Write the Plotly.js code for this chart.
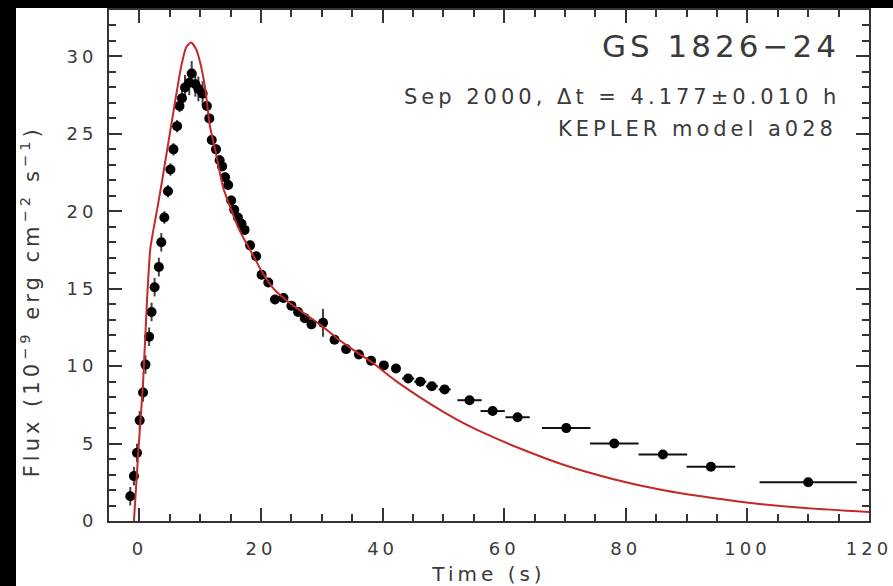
<!DOCTYPE html>
<html>
<head>
<meta charset="utf-8">
<script src="https://cdn.plot.ly/plotly-3.0.1.min.js"></script>
<style>
  html, body { margin: 0; padding: 0; background: #000; width: 893px; height: 586px; overflow: hidden; }
  #plot { position: absolute; left: 16px; top: 8px; width: 877px; height: 578px; background: #fff; }
  text { letter-spacing: 4px; }
</style>
</head>
<body>
<div id="plot"></div>
<script>
// Observed burst light curve (time in s, flux in 1e-9 erg cm^-2 s^-1)
const timeObs = [-1.5, -0.9, -0.4, 0.05, 0.6, 1.0, 1.6, 2.0, 2.5, 3.2, 3.6, 4.1, 4.7, 5.1, 5.6, 6.2, 6.6, 7.0, 7.5, 8.2, 8.6, 9.2, 9.7, 10.4, 11.1, 11.5, 11.9, 12.6, 13.2, 13.6, 14.1, 14.6, 15.1, 15.6, 16.2, 16.8, 17.3, 18.2, 19.2, 20.1, 21.2, 22.3, 23.7, 25.0, 26.1, 27.2, 28.3, 30.2, 32.1, 34.0, 36.1, 38.1, 40.2, 42.2, 44.2, 46.2, 48.1, 50.2, 54.3, 58.1, 62.2, 70.2, 78.1, 86.1, 94.0, 110.0];
const fluxObs = [1.6, 2.9, 4.4, 6.5, 8.3, 10.1, 11.9, 13.5, 15.1, 16.4, 18.0, 19.6, 21.3, 22.7, 24.0, 25.5, 26.8, 27.3, 28.0, 28.3, 28.9, 28.2, 27.9, 27.6, 26.8, 26.0, 24.6, 24.0, 23.3, 22.9, 22.2, 21.7, 20.7, 20.1, 19.6, 19.2, 18.8, 17.8, 17.1, 15.9, 15.4, 14.3, 14.4, 13.9, 13.5, 13.1, 12.7, 12.8, 11.7, 11.1, 10.75, 10.35, 10.05, 9.85, 9.2, 9.0, 8.7, 8.5, 7.8, 7.1, 6.7, 6.0, 5.0, 4.3, 3.5, 2.5];
const timeErr = [0.25,0.25,0.25,0.25,0.25,0.25,0.25,0.25,0.25,0.25,
                 0.25,0.25,0.25,0.25,0.25,0.25,0.25,0.25,0.25,0.25,
                 0.25,0.25,0.25,0.25,0.25,0.25,0.25,0.25,0.25,0.25,
                 0.25,0.25,0.25,0.25,0.25,0.25,0.25,0.25,0.25,0.25,
                 0.25,0.25,0.25,0.25,0.25,0.25,0.25,0.25,0.25,0.25,
                 0.25,0.25,0.25,0.25,
                 1.0,1.0,1.0,1.0,
                 2.0,2.0,2.0,
                 4.0,4.0,4.0,4.0,
                 8.0];
const fluxErr = [0.6,0.6,0.6,0.6,0.6,0.6,0.6,0.6,0.6,0.6,0.6,
                 0.4,0.4,0.4,0.4,0.4,0.4,
                 0.8,0.8,0.8,0.8,0.8,0.8,0.8,
                 0.3,0.3,0.3,0.3,0.3,0.3,0.3,0.3,0.3,0.3,0.3,0.3,0.3,0.3,0.3,0.3,0.3,0.3,0.3,0.3,0.3,0.3,0.3,
                 0.9,
                 0.25,0.25,0.25,0.25,0.25,0.25,0.25,0.25,0.25,0.25,0.25,0.25,0.25,
                 0.2,0.2,0.2,0.2,0.2];

// KEPLER model a028 light curve
const timeModel = [-0.9, -0.5, 0, 0.6, 1.26, 1.8, 2.3, 3, 4, 5, 6, 7, 7.7, 8.5, 9.3, 10, 10.8, 11.6, 12.5, 13.8, 15, 16.2, 17.5, 18.8, 20, 22.3, 25, 27.5, 30, 32.5, 35, 38.4, 42, 47.7, 52, 56, 62.5, 70, 78, 86, 94, 102, 110, 120];
const fluxModel = [0, 2.5, 5.5, 8.9, 14.3, 17.6, 18.8, 20.3, 22.6, 25.0, 27.4, 29.6, 30.6, 30.9, 30.5, 29.6, 28.0, 25.5, 23.9, 21.5, 20.2, 19.0, 18.0, 17.1, 16.2, 14.9, 14.0, 13.3, 12.6, 11.8, 11.1, 10.2, 9.1, 7.6, 6.6, 5.8, 4.7, 3.6, 2.7, 2.0, 1.5, 1.1, 0.82, 0.58];

const labels = {
  source: "GS 1826\u221224",
  epoch: "Sep 2000, \u0394t = 4.177\u00b10.010 h",
  model: "KEPLER model a028",
  xTitle: "Time (s)",
  yTitle: "Flux (10<sup>\u22129</sup> erg cm<sup>\u22122</sup> s<sup>\u22121</sup>)"
};

const txtColor = "#3a3a3a";
const axColor = "#333";
const fontFam = "DejaVu Sans, sans-serif";

const data = [
  {
    x: timeObs, y: fluxObs, type: "scatter", mode: "markers",
    marker: { color: "#000", size: 10 },
    error_x: { type: "data", array: timeErr, visible: true, color: "#111", thickness: 2, width: 0 },
    error_y: { type: "data", array: fluxErr, visible: true, color: "#444", thickness: 2, width: 0 },
    hoverinfo: "x+y", showlegend: false
  },
  {
    x: timeModel, y: fluxModel, type: "scatter", mode: "lines",
    line: { color: "rgb(196,40,40)", width: 2, shape: "spline", smoothing: 0.6 },
    showlegend: false
  }
];

const axisCommon = {
  showgrid: false, zeroline: false, showline: true, linecolor: axColor, linewidth: 2,
  mirror: "ticks", ticks: "inside", ticklen: 13, tickwidth: 2, tickcolor: axColor,
  tickfont: { family: fontFam, size: 18, color: txtColor }
};

const layout = {
  width: 877, height: 578,
  margin: { l: 93, r: 24, t: 2, b: 65 },
  paper_bgcolor: "#fff", plot_bgcolor: "#fff",
  font: { family: fontFam, color: txtColor },
  xaxis: Object.assign({}, axisCommon, {
    range: [-5, 120], dtick: 20, tick0: 0, ticklabelstandoff: 10,
    minor: { dtick: 5, ticks: "inside", ticklen: 7, tickwidth: 2, tickcolor: axColor },
    title: { text: labels.xTitle, font: { family: fontFam, size: 20, color: txtColor }, standoff: 10 }
  }),
  yaxis: Object.assign({}, axisCommon, {
    range: [0, 33], dtick: 5, tick0: 0, ticklabelstandoff: 6,
    minor: { dtick: 1, ticks: "inside", ticklen: 7, tickwidth: 2, tickcolor: axColor }
  }),
  annotations: [
    { text: labels.yTitle, xref: "paper", yref: "paper", x: -0.104, y: 0.43, xanchor: "center", yanchor: "middle",
      textangle: -90, showarrow: false, font: { family: fontFam, size: 21, color: txtColor } },
    { text: labels.source, xref: "x", yref: "y", x: 115.5, y: 30.7, xanchor: "right", yanchor: "middle",
      showarrow: false, font: { family: fontFam, size: 31, color: txtColor } },
    { text: labels.epoch, xref: "x", yref: "y", x: 115.5, y: 27.4, xanchor: "right", yanchor: "middle",
      showarrow: false, font: { family: fontFam, size: 21, color: txtColor } },
    { text: labels.model, xref: "x", yref: "y", x: 115.1, y: 25.3, xanchor: "right", yanchor: "middle",
      showarrow: false, font: { family: fontFam, size: 21, color: txtColor } }
  ]
};

Plotly.newPlot("plot", data, layout, { displayModeBar: false, staticPlot: true });
</script>
</body>
</html>
